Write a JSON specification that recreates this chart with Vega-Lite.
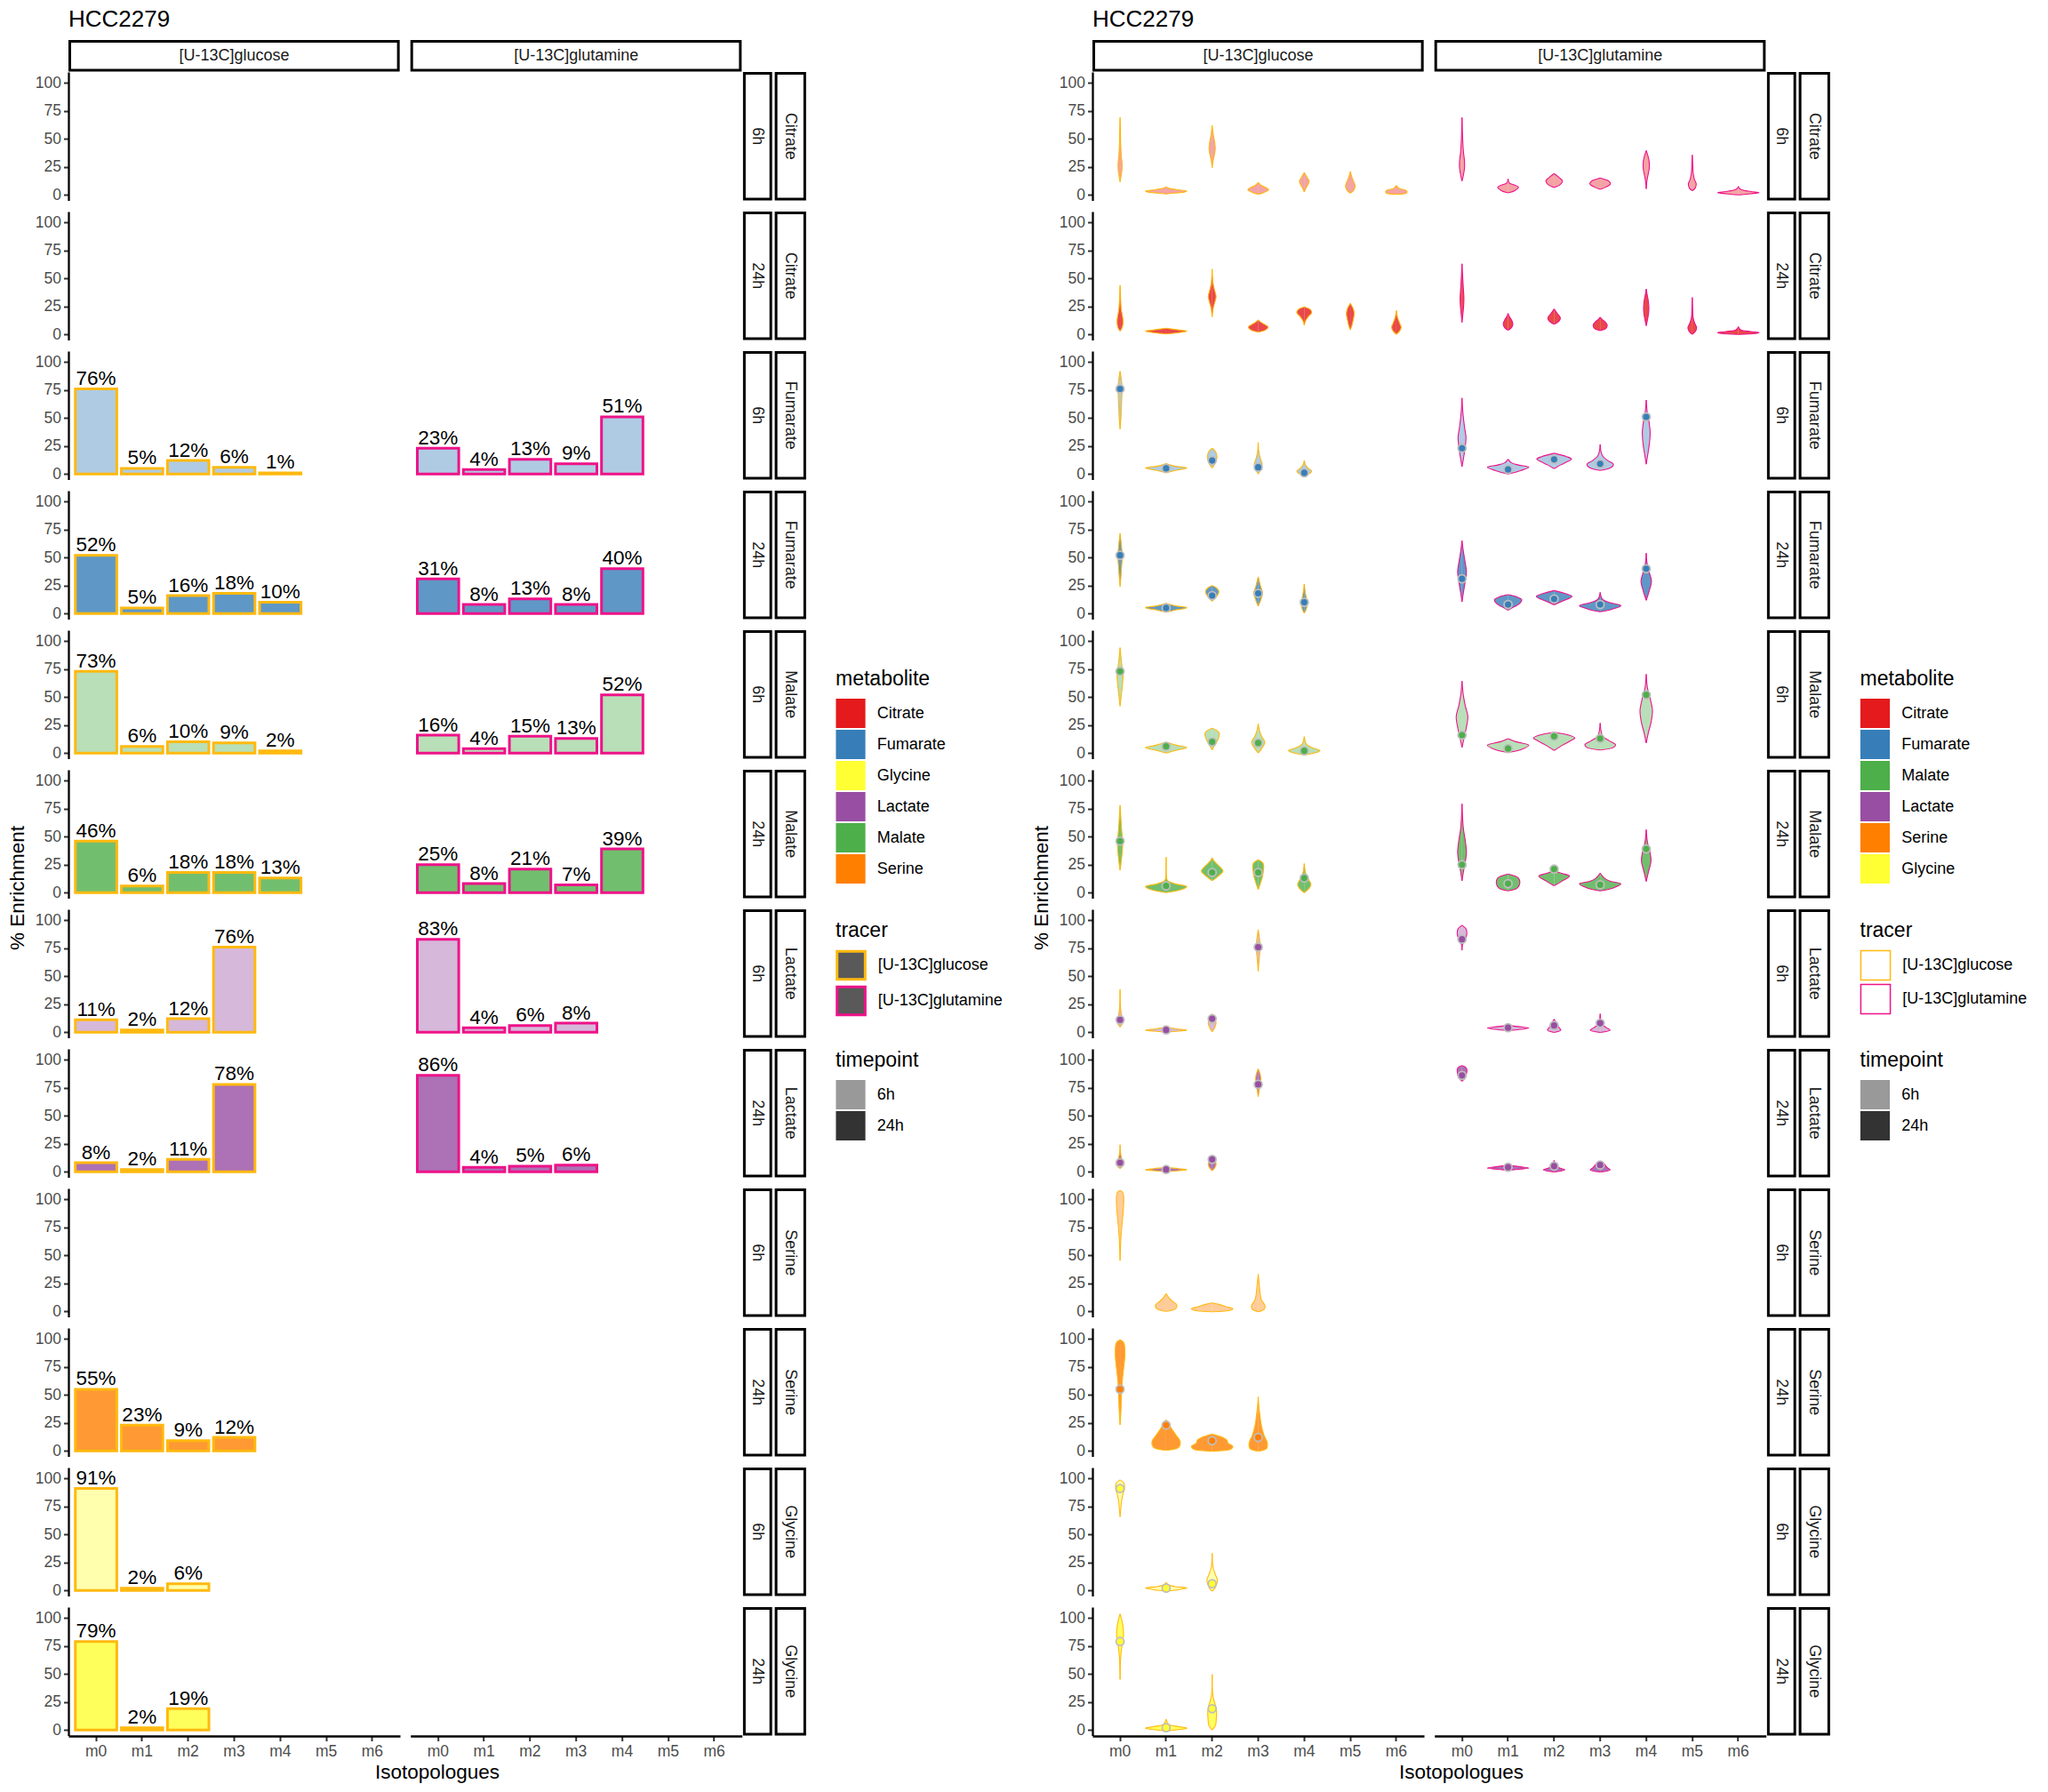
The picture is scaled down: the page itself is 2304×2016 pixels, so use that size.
{
"$schema":"https://vega.github.io/schema/vega-lite/v6.json",
"background":"white",
"padding":{"left":8,"top":8,"right":5,"bottom":5},
"spacing":32,
"resolve":{"scale":{"fill":"independent","stroke":"independent","fillOpacity":"independent","opacity":"independent"}},
"config":{
 "font":"Liberation Sans",
 "view":{"stroke":null},
 "axis":{"labelFont":"Liberation Sans","labelFontSize":17.5,"labelColor":"#4D4D4D","tickColor":"#333333","tickWidth":2,"tickSize":5.5,"labelPadding":3,"domainColor":"black","domainWidth":2.3,"grid":false,"labelOverlap":false},
 "axisX":{"labelAngle":0},
 "header":{"titleFont":"Liberation Sans","titleFontSize":22.5,"titleFontWeight":"normal","titleColor":"black"},
 "legend":{"titleFont":"Liberation Sans","titleFontSize":23,"titleFontWeight":"normal","titleColor":"black","labelFont":"Liberation Sans","labelFontSize":18,"labelColor":"black","labelOffset":12.8,"titlePadding":9.5,"rowPadding":1,"padding":0,"symbolType":"square","symbolSize":1100},
 "title":{"font":"Liberation Sans","fontSize":26,"fontWeight":"normal","color":"black","anchor":"start","frame":"group","offset":10}
},
"datasets":{
"L":[
{"v":"Ci6G","g":"Citrate 6h","m":"Citrate","t":"6h","r":"[U-13C]glucose"},
{"v":"Ci6N","g":"Citrate 6h","m":"Citrate","t":"6h","r":"[U-13C]glutamine"},
{"v":"Ci24G","g":"Citrate 24h","m":"Citrate","t":"24h","r":"[U-13C]glucose"},
{"v":"Ci24N","g":"Citrate 24h","m":"Citrate","t":"24h","r":"[U-13C]glutamine"},
{"v":"Fu6G","g":"Fumarate 6h","m":"Fumarate","t":"6h","r":"[U-13C]glucose"},
{"v":"Fu6N","g":"Fumarate 6h","m":"Fumarate","t":"6h","r":"[U-13C]glutamine"},
{"v":"Fu24G","g":"Fumarate 24h","m":"Fumarate","t":"24h","r":"[U-13C]glucose"},
{"v":"Fu24N","g":"Fumarate 24h","m":"Fumarate","t":"24h","r":"[U-13C]glutamine"},
{"v":"Ma6G","g":"Malate 6h","m":"Malate","t":"6h","r":"[U-13C]glucose"},
{"v":"Ma6N","g":"Malate 6h","m":"Malate","t":"6h","r":"[U-13C]glutamine"},
{"v":"Ma24G","g":"Malate 24h","m":"Malate","t":"24h","r":"[U-13C]glucose"},
{"v":"Ma24N","g":"Malate 24h","m":"Malate","t":"24h","r":"[U-13C]glutamine"},
{"v":"La6G","g":"Lactate 6h","m":"Lactate","t":"6h","r":"[U-13C]glucose"},
{"v":"La6N","g":"Lactate 6h","m":"Lactate","t":"6h","r":"[U-13C]glutamine"},
{"v":"La24G","g":"Lactate 24h","m":"Lactate","t":"24h","r":"[U-13C]glucose"},
{"v":"La24N","g":"Lactate 24h","m":"Lactate","t":"24h","r":"[U-13C]glutamine"},
{"v":"Se6G","g":"Serine 6h","m":"Serine","t":"6h","r":"[U-13C]glucose"},
{"v":"Se6N","g":"Serine 6h","m":"Serine","t":"6h","r":"[U-13C]glutamine"},
{"v":"Se24G","g":"Serine 24h","m":"Serine","t":"24h","r":"[U-13C]glucose"},
{"v":"Se24N","g":"Serine 24h","m":"Serine","t":"24h","r":"[U-13C]glutamine"},
{"v":"Gl6G","g":"Glycine 6h","m":"Glycine","t":"6h","r":"[U-13C]glucose"},
{"v":"Gl6N","g":"Glycine 6h","m":"Glycine","t":"6h","r":"[U-13C]glutamine"},
{"v":"Gl24G","g":"Glycine 24h","m":"Glycine","t":"24h","r":"[U-13C]glucose"},
{"v":"Gl24N","g":"Glycine 24h","m":"Glycine","t":"24h","r":"[U-13C]glutamine"}
],
"D":[
{"v":"Ci6G","s":"c"},{"v":"Ci6N","s":"c"},
{"v":"Ci6N","s":"r"},{"v":"Ci24N","s":"r"},{"v":"Fu6N","s":"r"},{"v":"Fu24N","s":"r"},{"v":"Ma6N","s":"r"},{"v":"Ma24N","s":"r"},{"v":"La6N","s":"r"},{"v":"La24N","s":"r"},{"v":"Se6N","s":"r"},{"v":"Se24N","s":"r"},{"v":"Gl6N","s":"r"},{"v":"Gl24N","s":"r"},
{"v":"Fu6G","i":"m0","y":76},{"v":"Fu6G","i":"m1","y":5},{"v":"Fu6G","i":"m2","y":12},{"v":"Fu6G","i":"m3","y":6},{"v":"Fu6G","i":"m4","y":1},
{"v":"Fu24G","i":"m0","y":52},{"v":"Fu24G","i":"m1","y":5},{"v":"Fu24G","i":"m2","y":16},{"v":"Fu24G","i":"m3","y":18},{"v":"Fu24G","i":"m4","y":10},
{"v":"Ma6G","i":"m0","y":73},{"v":"Ma6G","i":"m1","y":6},{"v":"Ma6G","i":"m2","y":10},{"v":"Ma6G","i":"m3","y":9},{"v":"Ma6G","i":"m4","y":2},
{"v":"Ma24G","i":"m0","y":46},{"v":"Ma24G","i":"m1","y":6},{"v":"Ma24G","i":"m2","y":18},{"v":"Ma24G","i":"m3","y":18},{"v":"Ma24G","i":"m4","y":13},
{"v":"La6G","i":"m0","y":11},{"v":"La6G","i":"m1","y":2},{"v":"La6G","i":"m2","y":12},{"v":"La6G","i":"m3","y":76},
{"v":"La24G","i":"m0","y":8},{"v":"La24G","i":"m1","y":2},{"v":"La24G","i":"m2","y":11},{"v":"La24G","i":"m3","y":78},
{"v":"Se24G","i":"m0","y":55},{"v":"Se24G","i":"m1","y":23},{"v":"Se24G","i":"m2","y":9},{"v":"Se24G","i":"m3","y":12},
{"v":"Gl6G","i":"m0","y":91},{"v":"Gl6G","i":"m1","y":2},{"v":"Gl6G","i":"m2","y":6},
{"v":"Gl24G","i":"m0","y":79},{"v":"Gl24G","i":"m1","y":2},{"v":"Gl24G","i":"m2","y":19},
{"v":"Fu6N","i":"m0","y":23},{"v":"Fu6N","i":"m1","y":4},{"v":"Fu6N","i":"m2","y":13},{"v":"Fu6N","i":"m3","y":9},{"v":"Fu6N","i":"m4","y":51},
{"v":"Fu24N","i":"m0","y":31},{"v":"Fu24N","i":"m1","y":8},{"v":"Fu24N","i":"m2","y":13},{"v":"Fu24N","i":"m3","y":8},{"v":"Fu24N","i":"m4","y":40},
{"v":"Ma6N","i":"m0","y":16},{"v":"Ma6N","i":"m1","y":4},{"v":"Ma6N","i":"m2","y":15},{"v":"Ma6N","i":"m3","y":13},{"v":"Ma6N","i":"m4","y":52},
{"v":"Ma24N","i":"m0","y":25},{"v":"Ma24N","i":"m1","y":8},{"v":"Ma24N","i":"m2","y":21},{"v":"Ma24N","i":"m3","y":7},{"v":"Ma24N","i":"m4","y":39},
{"v":"La6N","i":"m0","y":83},{"v":"La6N","i":"m1","y":4},{"v":"La6N","i":"m2","y":6},{"v":"La6N","i":"m3","y":8},
{"v":"La24N","i":"m0","y":86},{"v":"La24N","i":"m1","y":4},{"v":"La24N","i":"m2","y":5},{"v":"La24N","i":"m3","y":6},
{"v":"Ci6G","i":"m0","y":11.6,"w":0},{"v":"Ci6G","i":"m0","y":16,"w":0.02},{"v":"Ci6G","i":"m0","y":22,"w":0.045},{"v":"Ci6G","i":"m0","y":28,"w":0.048},{"v":"Ci6G","i":"m0","y":35,"w":0.03},{"v":"Ci6G","i":"m0","y":45,"w":0.015},{"v":"Ci6G","i":"m0","y":58,"w":0.008},{"v":"Ci6G","i":"m0","y":69,"w":0},
{"v":"Ci6G","i":"m1","y":0.8,"w":0},{"v":"Ci6G","i":"m1","y":1.6,"w":0.2},{"v":"Ci6G","i":"m1","y":2.5,"w":0.45},{"v":"Ci6G","i":"m1","y":3.3,"w":0.5},{"v":"Ci6G","i":"m1","y":4.2,"w":0.35},{"v":"Ci6G","i":"m1","y":5.2,"w":0.15},{"v":"Ci6G","i":"m1","y":6.2,"w":0.05},{"v":"Ci6G","i":"m1","y":7.2,"w":0},
{"v":"Ci6G","i":"m2","y":24.3,"w":0},{"v":"Ci6G","i":"m2","y":30,"w":0.02},{"v":"Ci6G","i":"m2","y":36,"w":0.055},{"v":"Ci6G","i":"m2","y":41,"w":0.075},{"v":"Ci6G","i":"m2","y":47,"w":0.06},{"v":"Ci6G","i":"m2","y":53,"w":0.03},{"v":"Ci6G","i":"m2","y":58,"w":0.012},{"v":"Ci6G","i":"m2","y":62,"w":0},
{"v":"Ci6G","i":"m3","y":0.5,"w":0},{"v":"Ci6G","i":"m3","y":2,"w":0.13},{"v":"Ci6G","i":"m3","y":4.5,"w":0.25},{"v":"Ci6G","i":"m3","y":6.5,"w":0.18},{"v":"Ci6G","i":"m3","y":8.5,"w":0.07},{"v":"Ci6G","i":"m3","y":11,"w":0},
{"v":"Ci6G","i":"m4","y":2.6,"w":0},{"v":"Ci6G","i":"m4","y":6,"w":0.04},{"v":"Ci6G","i":"m4","y":10,"w":0.1},{"v":"Ci6G","i":"m4","y":12.5,"w":0.116},{"v":"Ci6G","i":"m4","y":15.5,"w":0.07},{"v":"Ci6G","i":"m4","y":20,"w":0},
{"v":"Ci6G","i":"m5","y":1.6,"w":0},{"v":"Ci6G","i":"m5","y":4,"w":0.08},{"v":"Ci6G","i":"m5","y":8,"w":0.116},{"v":"Ci6G","i":"m5","y":12,"w":0.08},{"v":"Ci6G","i":"m5","y":16,"w":0.035},{"v":"Ci6G","i":"m5","y":20.8,"w":0},
{"v":"Ci6G","i":"m6","y":0.5,"w":0},{"v":"Ci6G","i":"m6","y":1.5,"w":0.24},{"v":"Ci6G","i":"m6","y":3,"w":0.26},{"v":"Ci6G","i":"m6","y":4.5,"w":0.2},{"v":"Ci6G","i":"m6","y":5.5,"w":0.08},{"v":"Ci6G","i":"m6","y":7,"w":0.03},{"v":"Ci6G","i":"m6","y":8.4,"w":0},
{"v":"Ci6N","i":"m0","y":12.4,"w":0},{"v":"Ci6N","i":"m0","y":18,"w":0.035},{"v":"Ci6N","i":"m0","y":24,"w":0.06},{"v":"Ci6N","i":"m0","y":30,"w":0.06},{"v":"Ci6N","i":"m0","y":38,"w":0.035},{"v":"Ci6N","i":"m0","y":50,"w":0.015},{"v":"Ci6N","i":"m0","y":60,"w":0.007},{"v":"Ci6N","i":"m0","y":69,"w":0},
{"v":"Ci6N","i":"m1","y":1.8,"w":0},{"v":"Ci6N","i":"m1","y":4,"w":0.17},{"v":"Ci6N","i":"m1","y":7,"w":0.25},{"v":"Ci6N","i":"m1","y":9,"w":0.13},{"v":"Ci6N","i":"m1","y":10.5,"w":0.03},{"v":"Ci6N","i":"m1","y":14.2,"w":0},
{"v":"Ci6N","i":"m2","y":6.6,"w":0},{"v":"Ci6N","i":"m2","y":9,"w":0.14},{"v":"Ci6N","i":"m2","y":12.4,"w":0.2},{"v":"Ci6N","i":"m2","y":15.5,"w":0.12},{"v":"Ci6N","i":"m2","y":19,"w":0},
{"v":"Ci6N","i":"m3","y":5,"w":0},{"v":"Ci6N","i":"m3","y":7,"w":0.14},{"v":"Ci6N","i":"m3","y":10,"w":0.25},{"v":"Ci6N","i":"m3","y":12.5,"w":0.2},{"v":"Ci6N","i":"m3","y":14,"w":0.09},{"v":"Ci6N","i":"m3","y":15,"w":0},
{"v":"Ci6N","i":"m4","y":5.3,"w":0},{"v":"Ci6N","i":"m4","y":12,"w":0.015},{"v":"Ci6N","i":"m4","y":18,"w":0.045},{"v":"Ci6N","i":"m4","y":24,"w":0.074},{"v":"Ci6N","i":"m4","y":30,"w":0.07},{"v":"Ci6N","i":"m4","y":35,"w":0.04},{"v":"Ci6N","i":"m4","y":39.6,"w":0},
{"v":"Ci6N","i":"m5","y":3.7,"w":0},{"v":"Ci6N","i":"m5","y":6,"w":0.07},{"v":"Ci6N","i":"m5","y":9.8,"w":0.095},{"v":"Ci6N","i":"m5","y":14,"w":0.05},{"v":"Ci6N","i":"m5","y":20,"w":0.02},{"v":"Ci6N","i":"m5","y":28,"w":0.01},{"v":"Ci6N","i":"m5","y":35.6,"w":0},
{"v":"Ci6N","i":"m6","y":0,"w":0},{"v":"Ci6N","i":"m6","y":1,"w":0.3},{"v":"Ci6N","i":"m6","y":2,"w":0.5},{"v":"Ci6N","i":"m6","y":3,"w":0.3},{"v":"Ci6N","i":"m6","y":4.5,"w":0.08},{"v":"Ci6N","i":"m6","y":6,"w":0.02},{"v":"Ci6N","i":"m6","y":7.6,"w":0},
{"v":"Ci24G","i":"m0","y":2.9,"w":0},{"v":"Ci24G","i":"m0","y":6,"w":0.05},{"v":"Ci24G","i":"m0","y":11,"w":0.074},{"v":"Ci24G","i":"m0","y":16,"w":0.06},{"v":"Ci24G","i":"m0","y":22,"w":0.03},{"v":"Ci24G","i":"m0","y":30,"w":0.015},{"v":"Ci24G","i":"m0","y":43.8,"w":0},
{"v":"Ci24G","i":"m1","y":0.3,"w":0},{"v":"Ci24G","i":"m1","y":1.5,"w":0.3},{"v":"Ci24G","i":"m1","y":2.9,"w":0.5},{"v":"Ci24G","i":"m1","y":4,"w":0.3},{"v":"Ci24G","i":"m1","y":5.5,"w":0},
{"v":"Ci24G","i":"m2","y":15.6,"w":0},{"v":"Ci24G","i":"m2","y":24,"w":0.03},{"v":"Ci24G","i":"m2","y":30,"w":0.075},{"v":"Ci24G","i":"m2","y":34,"w":0.095},{"v":"Ci24G","i":"m2","y":38,"w":0.07},{"v":"Ci24G","i":"m2","y":45,"w":0.025},{"v":"Ci24G","i":"m2","y":58.3,"w":0},
{"v":"Ci24G","i":"m3","y":2.1,"w":0},{"v":"Ci24G","i":"m3","y":4,"w":0.18},{"v":"Ci24G","i":"m3","y":6.6,"w":0.24},{"v":"Ci24G","i":"m3","y":9,"w":0.15},{"v":"Ci24G","i":"m3","y":11,"w":0.06},{"v":"Ci24G","i":"m3","y":12.9,"w":0},
{"v":"Ci24G","i":"m4","y":8.2,"w":0},{"v":"Ci24G","i":"m4","y":12,"w":0.03},{"v":"Ci24G","i":"m4","y":16,"w":0.1},{"v":"Ci24G","i":"m4","y":19.3,"w":0.18},{"v":"Ci24G","i":"m4","y":22,"w":0.15},{"v":"Ci24G","i":"m4","y":24.5,"w":0},
{"v":"Ci24G","i":"m5","y":4,"w":0},{"v":"Ci24G","i":"m5","y":8,"w":0.04},{"v":"Ci24G","i":"m5","y":13,"w":0.07},{"v":"Ci24G","i":"m5","y":18.7,"w":0.095},{"v":"Ci24G","i":"m5","y":23,"w":0.07},{"v":"Ci24G","i":"m5","y":27.7,"w":0},
{"v":"Ci24G","i":"m6","y":0,"w":0},{"v":"Ci24G","i":"m6","y":3,"w":0.08},{"v":"Ci24G","i":"m6","y":6.3,"w":0.116},{"v":"Ci24G","i":"m6","y":10,"w":0.08},{"v":"Ci24G","i":"m6","y":15,"w":0.03},{"v":"Ci24G","i":"m6","y":21.4,"w":0},
{"v":"Ci24N","i":"m0","y":10.8,"w":0},{"v":"Ci24N","i":"m0","y":18,"w":0.02},{"v":"Ci24N","i":"m0","y":26,"w":0.04},{"v":"Ci24N","i":"m0","y":33,"w":0.045},{"v":"Ci24N","i":"m0","y":42,"w":0.03},{"v":"Ci24N","i":"m0","y":52,"w":0.015},{"v":"Ci24N","i":"m0","y":63,"w":0},
{"v":"Ci24N","i":"m1","y":3.7,"w":0},{"v":"Ci24N","i":"m1","y":6,"w":0.08},{"v":"Ci24N","i":"m1","y":9.5,"w":0.116},{"v":"Ci24N","i":"m1","y":13,"w":0.08},{"v":"Ci24N","i":"m1","y":16,"w":0.03},{"v":"Ci24N","i":"m1","y":18.7,"w":0},
{"v":"Ci24N","i":"m2","y":9,"w":0},{"v":"Ci24N","i":"m2","y":12,"w":0.12},{"v":"Ci24N","i":"m2","y":14.8,"w":0.15},{"v":"Ci24N","i":"m2","y":18,"w":0.09},{"v":"Ci24N","i":"m2","y":22.7,"w":0},
{"v":"Ci24N","i":"m3","y":3.4,"w":0},{"v":"Ci24N","i":"m3","y":5.5,"w":0.14},{"v":"Ci24N","i":"m3","y":8.2,"w":0.17},{"v":"Ci24N","i":"m3","y":11,"w":0.12},{"v":"Ci24N","i":"m3","y":13.5,"w":0.04},{"v":"Ci24N","i":"m3","y":15.3,"w":0},
{"v":"Ci24N","i":"m4","y":7.7,"w":0},{"v":"Ci24N","i":"m4","y":14,"w":0.035},{"v":"Ci24N","i":"m4","y":20,"w":0.06},{"v":"Ci24N","i":"m4","y":25,"w":0.063},{"v":"Ci24N","i":"m4","y":31,"w":0.045},{"v":"Ci24N","i":"m4","y":36,"w":0.02},{"v":"Ci24N","i":"m4","y":40.6,"w":0},
{"v":"Ci24N","i":"m5","y":0,"w":0},{"v":"Ci24N","i":"m5","y":3,"w":0.08},{"v":"Ci24N","i":"m5","y":6,"w":0.105},{"v":"Ci24N","i":"m5","y":10,"w":0.06},{"v":"Ci24N","i":"m5","y":15,"w":0.02},{"v":"Ci24N","i":"m5","y":24,"w":0.008},{"v":"Ci24N","i":"m5","y":33,"w":0},
{"v":"Ci24N","i":"m6","y":0,"w":0},{"v":"Ci24N","i":"m6","y":0.8,"w":0.4},{"v":"Ci24N","i":"m6","y":1.6,"w":0.5},{"v":"Ci24N","i":"m6","y":2.5,"w":0.3},{"v":"Ci24N","i":"m6","y":4,"w":0.06},{"v":"Ci24N","i":"m6","y":5.5,"w":0.02},{"v":"Ci24N","i":"m6","y":6.9,"w":0},
{"v":"Fu6G","i":"m0","y":40.1,"w":0},{"v":"Fu6G","i":"m0","y":50,"w":0.02},{"v":"Fu6G","i":"m0","y":62,"w":0.035},{"v":"Fu6G","i":"m0","y":72,"w":0.045},{"v":"Fu6G","i":"m0","y":80,"w":0.045},{"v":"Fu6G","i":"m0","y":86,"w":0.025},{"v":"Fu6G","i":"m0","y":91.8,"w":0},
{"v":"Fu6G","i":"m1","y":1,"w":0},{"v":"Fu6G","i":"m1","y":3,"w":0.2},{"v":"Fu6G","i":"m1","y":5.3,"w":0.5},{"v":"Fu6G","i":"m1","y":7,"w":0.2},{"v":"Fu6G","i":"m1","y":9.2,"w":0},
{"v":"Fu6G","i":"m2","y":5.3,"w":0},{"v":"Fu6G","i":"m2","y":8,"w":0.05},{"v":"Fu6G","i":"m2","y":12,"w":0.1},{"v":"Fu6G","i":"m2","y":16,"w":0.116},{"v":"Fu6G","i":"m2","y":20,"w":0.08},{"v":"Fu6G","i":"m2","y":23,"w":0},
{"v":"Fu6G","i":"m3","y":0,"w":0},{"v":"Fu6G","i":"m3","y":4,"w":0.06},{"v":"Fu6G","i":"m3","y":9,"w":0.095},{"v":"Fu6G","i":"m3","y":14,"w":0.05},{"v":"Fu6G","i":"m3","y":20,"w":0.015},{"v":"Fu6G","i":"m3","y":28.2,"w":0},
{"v":"Fu6G","i":"m4","y":-1,"w":0},{"v":"Fu6G","i":"m4","y":1,"w":0.15},{"v":"Fu6G","i":"m4","y":2.6,"w":0.18},{"v":"Fu6G","i":"m4","y":5,"w":0.1},{"v":"Fu6G","i":"m4","y":8,"w":0.03},{"v":"Fu6G","i":"m4","y":11.9,"w":0},
{"v":"Fu6N","i":"m0","y":6.6,"w":0},{"v":"Fu6N","i":"m0","y":15,"w":0.04},{"v":"Fu6N","i":"m0","y":25,"w":0.08},{"v":"Fu6N","i":"m0","y":33,"w":0.095},{"v":"Fu6N","i":"m0","y":42,"w":0.06},{"v":"Fu6N","i":"m0","y":55,"w":0.02},{"v":"Fu6N","i":"m0","y":67.8,"w":0},
{"v":"Fu6N","i":"m1","y":0,"w":0},{"v":"Fu6N","i":"m1","y":3,"w":0.3},{"v":"Fu6N","i":"m1","y":6,"w":0.5},{"v":"Fu6N","i":"m1","y":8,"w":0.25},{"v":"Fu6N","i":"m1","y":10,"w":0.08},{"v":"Fu6N","i":"m1","y":13.2,"w":0},
{"v":"Fu6N","i":"m2","y":4.7,"w":0},{"v":"Fu6N","i":"m2","y":8,"w":0.15},{"v":"Fu6N","i":"m2","y":11,"w":0.32},{"v":"Fu6N","i":"m2","y":13.2,"w":0.42},{"v":"Fu6N","i":"m2","y":15.5,"w":0.3},{"v":"Fu6N","i":"m2","y":18.5,"w":0},
{"v":"Fu6N","i":"m3","y":3.2,"w":0},{"v":"Fu6N","i":"m3","y":5.5,"w":0.25},{"v":"Fu6N","i":"m3","y":8.7,"w":0.32},{"v":"Fu6N","i":"m3","y":12,"w":0.18},{"v":"Fu6N","i":"m3","y":16,"w":0.06},{"v":"Fu6N","i":"m3","y":20,"w":0.02},{"v":"Fu6N","i":"m3","y":26.4,"w":0},
{"v":"Fu6N","i":"m4","y":8.7,"w":0},{"v":"Fu6N","i":"m4","y":18,"w":0.04},{"v":"Fu6N","i":"m4","y":28,"w":0.08},{"v":"Fu6N","i":"m4","y":37,"w":0.095},{"v":"Fu6N","i":"m4","y":46,"w":0.07},{"v":"Fu6N","i":"m4","y":55,"w":0.025},{"v":"Fu6N","i":"m4","y":66,"w":0},
{"v":"Fu24G","i":"m0","y":24.2,"w":0},{"v":"Fu24G","i":"m0","y":33,"w":0.02},{"v":"Fu24G","i":"m0","y":43,"w":0.04},{"v":"Fu24G","i":"m0","y":51,"w":0.053},{"v":"Fu24G","i":"m0","y":60,"w":0.035},{"v":"Fu24G","i":"m0","y":71.6,"w":0},
{"v":"Fu24G","i":"m1","y":1.2,"w":0},{"v":"Fu24G","i":"m1","y":3,"w":0.2},{"v":"Fu24G","i":"m1","y":5.2,"w":0.5},{"v":"Fu24G","i":"m1","y":7,"w":0.2},{"v":"Fu24G","i":"m1","y":9.1,"w":0},
{"v":"Fu24G","i":"m2","y":11,"w":0},{"v":"Fu24G","i":"m2","y":14,"w":0.08},{"v":"Fu24G","i":"m2","y":17,"w":0.14},{"v":"Fu24G","i":"m2","y":20,"w":0.16},{"v":"Fu24G","i":"m2","y":23,"w":0.1},{"v":"Fu24G","i":"m2","y":25,"w":0},
{"v":"Fu24G","i":"m3","y":6.5,"w":0},{"v":"Fu24G","i":"m3","y":12,"w":0.06},{"v":"Fu24G","i":"m3","y":18.4,"w":0.106},{"v":"Fu24G","i":"m3","y":24,"w":0.06},{"v":"Fu24G","i":"m3","y":32.9,"w":0},
{"v":"Fu24G","i":"m4","y":0.4,"w":0},{"v":"Fu24G","i":"m4","y":4,"w":0.05},{"v":"Fu24G","i":"m4","y":9,"w":0.074},{"v":"Fu24G","i":"m4","y":14,"w":0.05},{"v":"Fu24G","i":"m4","y":20,"w":0.02},{"v":"Fu24G","i":"m4","y":26.3,"w":0},
{"v":"Fu24N","i":"m0","y":10.4,"w":0},{"v":"Fu24N","i":"m0","y":18,"w":0.03},{"v":"Fu24N","i":"m0","y":27,"w":0.07},{"v":"Fu24N","i":"m0","y":37,"w":0.106},{"v":"Fu24N","i":"m0","y":47,"w":0.07},{"v":"Fu24N","i":"m0","y":56,"w":0.03},{"v":"Fu24N","i":"m0","y":65,"w":0},
{"v":"Fu24N","i":"m1","y":3,"w":0},{"v":"Fu24N","i":"m1","y":6,"w":0.15},{"v":"Fu24N","i":"m1","y":9,"w":0.28},{"v":"Fu24N","i":"m1","y":12.3,"w":0.33},{"v":"Fu24N","i":"m1","y":15,"w":0.2},{"v":"Fu24N","i":"m1","y":16.8,"w":0},
{"v":"Fu24N","i":"m2","y":7.8,"w":0},{"v":"Fu24N","i":"m2","y":11,"w":0.2},{"v":"Fu24N","i":"m2","y":15.2,"w":0.43},{"v":"Fu24N","i":"m2","y":18,"w":0.25},{"v":"Fu24N","i":"m2","y":20.5,"w":0},
{"v":"Fu24N","i":"m3","y":1.5,"w":0},{"v":"Fu24N","i":"m3","y":4,"w":0.3},{"v":"Fu24N","i":"m3","y":7,"w":0.5},{"v":"Fu24N","i":"m3","y":10,"w":0.2},{"v":"Fu24N","i":"m3","y":13,"w":0.05},{"v":"Fu24N","i":"m3","y":18.9,"w":0},
{"v":"Fu24N","i":"m4","y":11.8,"w":0},{"v":"Fu24N","i":"m4","y":20,"w":0.07},{"v":"Fu24N","i":"m4","y":28.9,"w":0.127},{"v":"Fu24N","i":"m4","y":36,"w":0.08},{"v":"Fu24N","i":"m4","y":45,"w":0.02},{"v":"Fu24N","i":"m4","y":54,"w":0},
{"v":"Ma6G","i":"m0","y":41.9,"w":0},{"v":"Ma6G","i":"m0","y":52,"w":0.03},{"v":"Ma6G","i":"m0","y":62,"w":0.06},{"v":"Ma6G","i":"m0","y":70,"w":0.074},{"v":"Ma6G","i":"m0","y":78,"w":0.045},{"v":"Ma6G","i":"m0","y":86,"w":0.02},{"v":"Ma6G","i":"m0","y":94.1,"w":0},
{"v":"Ma6G","i":"m1","y":0,"w":0},{"v":"Ma6G","i":"m1","y":2.5,"w":0.25},{"v":"Ma6G","i":"m1","y":4.9,"w":0.5},{"v":"Ma6G","i":"m1","y":7,"w":0.25},{"v":"Ma6G","i":"m1","y":9.7,"w":0},
{"v":"Ma6G","i":"m2","y":2.8,"w":0},{"v":"Ma6G","i":"m2","y":7,"w":0.06},{"v":"Ma6G","i":"m2","y":12,"w":0.14},{"v":"Ma6G","i":"m2","y":18,"w":0.17},{"v":"Ma6G","i":"m2","y":22.1,"w":0},
{"v":"Ma6G","i":"m3","y":0,"w":0},{"v":"Ma6G","i":"m3","y":5,"w":0.1},{"v":"Ma6G","i":"m3","y":9.7,"w":0.16},{"v":"Ma6G","i":"m3","y":15,"w":0.08},{"v":"Ma6G","i":"m3","y":20,"w":0.03},{"v":"Ma6G","i":"m3","y":26,"w":0},
{"v":"Ma6G","i":"m4","y":-1.6,"w":0},{"v":"Ma6G","i":"m4","y":0.5,"w":0.3},{"v":"Ma6G","i":"m4","y":2.3,"w":0.38},{"v":"Ma6G","i":"m4","y":5,"w":0.18},{"v":"Ma6G","i":"m4","y":8,"w":0.05},{"v":"Ma6G","i":"m4","y":14.7,"w":0},
{"v":"Ma6N","i":"m0","y":5,"w":0},{"v":"Ma6N","i":"m0","y":12,"w":0.04},{"v":"Ma6N","i":"m0","y":22,"w":0.1},{"v":"Ma6N","i":"m0","y":32.6,"w":0.14},{"v":"Ma6N","i":"m0","y":42,"w":0.08},{"v":"Ma6N","i":"m0","y":52,"w":0.03},{"v":"Ma6N","i":"m0","y":64.3,"w":0},
{"v":"Ma6N","i":"m1","y":0.5,"w":0},{"v":"Ma6N","i":"m1","y":3,"w":0.3},{"v":"Ma6N","i":"m1","y":7,"w":0.5},{"v":"Ma6N","i":"m1","y":10,"w":0.2},{"v":"Ma6N","i":"m1","y":12.9,"w":0},
{"v":"Ma6N","i":"m2","y":2.3,"w":0},{"v":"Ma6N","i":"m2","y":7,"w":0.2},{"v":"Ma6N","i":"m2","y":11,"w":0.4},{"v":"Ma6N","i":"m2","y":13.4,"w":0.5},{"v":"Ma6N","i":"m2","y":16,"w":0.35},{"v":"Ma6N","i":"m2","y":18.6,"w":0},
{"v":"Ma6N","i":"m3","y":2.8,"w":0},{"v":"Ma6N","i":"m3","y":5,"w":0.32},{"v":"Ma6N","i":"m3","y":7.6,"w":0.37},{"v":"Ma6N","i":"m3","y":11,"w":0.22},{"v":"Ma6N","i":"m3","y":15,"w":0.06},{"v":"Ma6N","i":"m3","y":20,"w":0.02},{"v":"Ma6N","i":"m3","y":26.8,"w":0},
{"v":"Ma6N","i":"m4","y":8.9,"w":0},{"v":"Ma6N","i":"m4","y":18,"w":0.05},{"v":"Ma6N","i":"m4","y":28,"w":0.12},{"v":"Ma6N","i":"m4","y":38,"w":0.15},{"v":"Ma6N","i":"m4","y":48,"w":0.1},{"v":"Ma6N","i":"m4","y":58,"w":0.03},{"v":"Ma6N","i":"m4","y":70.4,"w":0},
{"v":"Ma24G","i":"m0","y":20,"w":0},{"v":"Ma24G","i":"m0","y":30,"w":0.035},{"v":"Ma24G","i":"m0","y":40,"w":0.06},{"v":"Ma24G","i":"m0","y":46,"w":0.063},{"v":"Ma24G","i":"m0","y":55,"w":0.04},{"v":"Ma24G","i":"m0","y":66,"w":0.02},{"v":"Ma24G","i":"m0","y":78.1,"w":0},
{"v":"Ma24G","i":"m1","y":0,"w":0},{"v":"Ma24G","i":"m1","y":2.5,"w":0.35},{"v":"Ma24G","i":"m1","y":5.3,"w":0.5},{"v":"Ma24G","i":"m1","y":8,"w":0.2},{"v":"Ma24G","i":"m1","y":11,"w":0.03},{"v":"Ma24G","i":"m1","y":15,"w":0.008},{"v":"Ma24G","i":"m1","y":31.7,"w":0},
{"v":"Ma24G","i":"m2","y":10.6,"w":0},{"v":"Ma24G","i":"m2","y":14,"w":0.12},{"v":"Ma24G","i":"m2","y":19.3,"w":0.26},{"v":"Ma24G","i":"m2","y":24,"w":0.16},{"v":"Ma24G","i":"m2","y":28,"w":0.05},{"v":"Ma24G","i":"m2","y":31.1,"w":0},
{"v":"Ma24G","i":"m3","y":2.6,"w":0},{"v":"Ma24G","i":"m3","y":8,"w":0.05},{"v":"Ma24G","i":"m3","y":14,"w":0.1},{"v":"Ma24G","i":"m3","y":20,"w":0.127},{"v":"Ma24G","i":"m3","y":26,"w":0.12},{"v":"Ma24G","i":"m3","y":29.3,"w":0},
{"v":"Ma24G","i":"m4","y":0,"w":0},{"v":"Ma24G","i":"m4","y":4,"w":0.12},{"v":"Ma24G","i":"m4","y":7.4,"w":0.16},{"v":"Ma24G","i":"m4","y":12,"w":0.1},{"v":"Ma24G","i":"m4","y":18,"w":0.03},{"v":"Ma24G","i":"m4","y":25.9,"w":0},
{"v":"Ma24N","i":"m0","y":10.6,"w":0},{"v":"Ma24N","i":"m0","y":20,"w":0.04},{"v":"Ma24N","i":"m0","y":30,"w":0.09},{"v":"Ma24N","i":"m0","y":36.4,"w":0.106},{"v":"Ma24N","i":"m0","y":46,"w":0.08},{"v":"Ma24N","i":"m0","y":58,"w":0.03},{"v":"Ma24N","i":"m0","y":79.4,"w":0},
{"v":"Ma24N","i":"m1","y":1.6,"w":0},{"v":"Ma24N","i":"m1","y":4,"w":0.22},{"v":"Ma24N","i":"m1","y":8.7,"w":0.285},{"v":"Ma24N","i":"m1","y":13,"w":0.25},{"v":"Ma24N","i":"m1","y":16.6,"w":0},
{"v":"Ma24N","i":"m2","y":6.1,"w":0},{"v":"Ma24N","i":"m2","y":10,"w":0.18},{"v":"Ma24N","i":"m2","y":14.8,"w":0.37},{"v":"Ma24N","i":"m2","y":17,"w":0.2},{"v":"Ma24N","i":"m2","y":19,"w":0.05},{"v":"Ma24N","i":"m2","y":20.6,"w":0},
{"v":"Ma24N","i":"m3","y":1.6,"w":0},{"v":"Ma24N","i":"m3","y":4,"w":0.3},{"v":"Ma24N","i":"m3","y":7.9,"w":0.5},{"v":"Ma24N","i":"m3","y":10,"w":0.25},{"v":"Ma24N","i":"m3","y":13,"w":0.1},{"v":"Ma24N","i":"m3","y":17.4,"w":0},
{"v":"Ma24N","i":"m4","y":10,"w":0},{"v":"Ma24N","i":"m4","y":18,"w":0.05},{"v":"Ma24N","i":"m4","y":28.5,"w":0.116},{"v":"Ma24N","i":"m4","y":36,"w":0.09},{"v":"Ma24N","i":"m4","y":45,"w":0.03},{"v":"Ma24N","i":"m4","y":56.2,"w":0},
{"v":"La6G","i":"m0","y":4.5,"w":0},{"v":"La6G","i":"m0","y":8,"w":0.06},{"v":"La6G","i":"m0","y":11,"w":0.074},{"v":"La6G","i":"m0","y":15,"w":0.04},{"v":"La6G","i":"m0","y":22,"w":0.01},{"v":"La6G","i":"m0","y":38,"w":0},
{"v":"La6G","i":"m1","y":0,"w":0},{"v":"La6G","i":"m1","y":1,"w":0.3},{"v":"La6G","i":"m1","y":1.8,"w":0.5},{"v":"La6G","i":"m1","y":3,"w":0.25},{"v":"La6G","i":"m1","y":4.5,"w":0},
{"v":"La6G","i":"m2","y":0.5,"w":0},{"v":"La6G","i":"m2","y":4,"w":0.06},{"v":"La6G","i":"m2","y":8.4,"w":0.095},{"v":"La6G","i":"m2","y":12,"w":0.06},{"v":"La6G","i":"m2","y":16.4,"w":0},
{"v":"La6G","i":"m3","y":54.1,"w":0},{"v":"La6G","i":"m3","y":62,"w":0.015},{"v":"La6G","i":"m3","y":70,"w":0.035},{"v":"La6G","i":"m3","y":76,"w":0.053},{"v":"La6G","i":"m3","y":82,"w":0.035},{"v":"La6G","i":"m3","y":88,"w":0.015},{"v":"La6G","i":"m3","y":91.6,"w":0},
{"v":"La6N","i":"m0","y":73.1,"w":0},{"v":"La6N","i":"m0","y":78,"w":0.01},{"v":"La6N","i":"m0","y":84,"w":0.09},{"v":"La6N","i":"m0","y":88,"w":0.116},{"v":"La6N","i":"m0","y":92,"w":0.1},{"v":"La6N","i":"m0","y":95.5,"w":0},
{"v":"La6N","i":"m1","y":1.3,"w":0},{"v":"La6N","i":"m1","y":2.5,"w":0.3},{"v":"La6N","i":"m1","y":3.7,"w":0.5},{"v":"La6N","i":"m1","y":4.8,"w":0.3},{"v":"La6N","i":"m1","y":5.8,"w":0},
{"v":"La6N","i":"m2","y":-0.3,"w":0},{"v":"La6N","i":"m2","y":1.8,"w":0.16},{"v":"La6N","i":"m2","y":4,"w":0.12},{"v":"La6N","i":"m2","y":7,"w":0.07},{"v":"La6N","i":"m2","y":11.6,"w":0},
{"v":"La6N","i":"m3","y":-0.3,"w":0},{"v":"La6N","i":"m3","y":1.8,"w":0.24},{"v":"La6N","i":"m3","y":4,"w":0.15},{"v":"La6N","i":"m3","y":7,"w":0.05},{"v":"La6N","i":"m3","y":11,"w":0.015},{"v":"La6N","i":"m3","y":16.4,"w":0},
{"v":"La24G","i":"m0","y":3,"w":0},{"v":"La24G","i":"m0","y":5.5,"w":0.08},{"v":"La24G","i":"m0","y":8.3,"w":0.095},{"v":"La24G","i":"m0","y":12,"w":0.04},{"v":"La24G","i":"m0","y":17,"w":0.01},{"v":"La24G","i":"m0","y":24.2,"w":0},
{"v":"La24G","i":"m1","y":0,"w":0},{"v":"La24G","i":"m1","y":1,"w":0.3},{"v":"La24G","i":"m1","y":1.7,"w":0.5},{"v":"La24G","i":"m1","y":2.7,"w":0.3},{"v":"La24G","i":"m1","y":3.8,"w":0},
{"v":"La24G","i":"m2","y":0.9,"w":0},{"v":"La24G","i":"m2","y":4,"w":0.07},{"v":"La24G","i":"m2","y":7,"w":0.095},{"v":"La24G","i":"m2","y":10,"w":0.07},{"v":"La24G","i":"m2","y":14.1,"w":0},
{"v":"La24G","i":"m3","y":66.9,"w":0},{"v":"La24G","i":"m3","y":72,"w":0.02},{"v":"La24G","i":"m3","y":78,"w":0.05},{"v":"La24G","i":"m3","y":83.5,"w":0.063},{"v":"La24G","i":"m3","y":88,"w":0.04},{"v":"La24G","i":"m3","y":91.9,"w":0},
{"v":"La24N","i":"m0","y":80.8,"w":0},{"v":"La24N","i":"m0","y":84,"w":0.08},{"v":"La24N","i":"m0","y":88,"w":0.11},{"v":"La24N","i":"m0","y":91.4,"w":0.116},{"v":"La24N","i":"m0","y":93.5,"w":0.08},{"v":"La24N","i":"m0","y":94.8,"w":0},
{"v":"La24N","i":"m1","y":1.4,"w":0},{"v":"La24N","i":"m1","y":2.4,"w":0.3},{"v":"La24N","i":"m1","y":3.3,"w":0.5},{"v":"La24N","i":"m1","y":4.4,"w":0.3},{"v":"La24N","i":"m1","y":5.6,"w":0},
{"v":"La24N","i":"m2","y":-0.2,"w":0},{"v":"La24N","i":"m2","y":1.7,"w":0.26},{"v":"La24N","i":"m2","y":3.5,"w":0.12},{"v":"La24N","i":"m2","y":6,"w":0.04},{"v":"La24N","i":"m2","y":10.1,"w":0},
{"v":"La24N","i":"m3","y":-0.2,"w":0},{"v":"La24N","i":"m3","y":1.7,"w":0.24},{"v":"La24N","i":"m3","y":3.5,"w":0.18},{"v":"La24N","i":"m3","y":5,"w":0.14},{"v":"La24N","i":"m3","y":7,"w":0.1},{"v":"La24N","i":"m3","y":9.6,"w":0},
{"v":"Se6G","i":"m0","y":45.3,"w":0},{"v":"Se6G","i":"m0","y":55,"w":0.008},{"v":"Se6G","i":"m0","y":65,"w":0.02},{"v":"Se6G","i":"m0","y":75,"w":0.04},{"v":"Se6G","i":"m0","y":85,"w":0.065},{"v":"Se6G","i":"m0","y":95,"w":0.085},{"v":"Se6G","i":"m0","y":103,"w":0.085},{"v":"Se6G","i":"m0","y":106.5,"w":0.06},{"v":"Se6G","i":"m0","y":107.9,"w":0},
{"v":"Se6G","i":"m1","y":0,"w":0},{"v":"Se6G","i":"m1","y":2,"w":0.22},{"v":"Se6G","i":"m1","y":5.4,"w":0.26},{"v":"Se6G","i":"m1","y":9,"w":0.15},{"v":"Se6G","i":"m1","y":12,"w":0.07},{"v":"Se6G","i":"m1","y":15.9,"w":0},
{"v":"Se6G","i":"m2","y":-0.4,"w":0},{"v":"Se6G","i":"m2","y":1,"w":0.45},{"v":"Se6G","i":"m2","y":2.3,"w":0.5},{"v":"Se6G","i":"m2","y":4,"w":0.35},{"v":"Se6G","i":"m2","y":6,"w":0.18},{"v":"Se6G","i":"m2","y":7.5,"w":0},
{"v":"Se6G","i":"m3","y":-0.4,"w":0},{"v":"Se6G","i":"m3","y":2,"w":0.15},{"v":"Se6G","i":"m3","y":5.4,"w":0.16},{"v":"Se6G","i":"m3","y":10,"w":0.08},{"v":"Se6G","i":"m3","y":15,"w":0.05},{"v":"Se6G","i":"m3","y":22,"w":0.03},{"v":"Se6G","i":"m3","y":33.1,"w":0},
{"v":"Se24G","i":"m0","y":23.2,"w":0},{"v":"Se24G","i":"m0","y":35,"w":0.02},{"v":"Se24G","i":"m0","y":45,"w":0.03},{"v":"Se24G","i":"m0","y":55,"w":0.04},{"v":"Se24G","i":"m0","y":65,"w":0.06},{"v":"Se24G","i":"m0","y":75,"w":0.09},{"v":"Se24G","i":"m0","y":86,"w":0.116},{"v":"Se24G","i":"m0","y":96.5,"w":0.09},{"v":"Se24G","i":"m0","y":99.2,"w":0},
{"v":"Se24G","i":"m1","y":0.5,"w":0},{"v":"Se24G","i":"m1","y":3,"w":0.3},{"v":"Se24G","i":"m1","y":8.4,"w":0.34},{"v":"Se24G","i":"m1","y":14,"w":0.24},{"v":"Se24G","i":"m1","y":20,"w":0.13},{"v":"Se24G","i":"m1","y":25,"w":0.05},{"v":"Se24G","i":"m1","y":27.6,"w":0},
{"v":"Se24G","i":"m2","y":-0.3,"w":0},{"v":"Se24G","i":"m2","y":1.5,"w":0.45},{"v":"Se24G","i":"m2","y":4,"w":0.5},{"v":"Se24G","i":"m2","y":7,"w":0.38},{"v":"Se24G","i":"m2","y":9.5,"w":0.36},{"v":"Se24G","i":"m2","y":12,"w":0.25},{"v":"Se24G","i":"m2","y":15,"w":0},
{"v":"Se24G","i":"m3","y":-0.3,"w":0},{"v":"Se24G","i":"m3","y":2,"w":0.2},{"v":"Se24G","i":"m3","y":7,"w":0.22},{"v":"Se24G","i":"m3","y":14,"w":0.14},{"v":"Se24G","i":"m3","y":22,"w":0.08},{"v":"Se24G","i":"m3","y":32,"w":0.04},{"v":"Se24G","i":"m3","y":40,"w":0.015},{"v":"Se24G","i":"m3","y":48.4,"w":0},
{"v":"Gl6G","i":"m0","y":65.7,"w":0},{"v":"Gl6G","i":"m0","y":72,"w":0.015},{"v":"Gl6G","i":"m0","y":80,"w":0.035},{"v":"Gl6G","i":"m0","y":86,"w":0.07},{"v":"Gl6G","i":"m0","y":91,"w":0.106},{"v":"Gl6G","i":"m0","y":96,"w":0.09},{"v":"Gl6G","i":"m0","y":98.7,"w":0},
{"v":"Gl6G","i":"m1","y":-0.8,"w":0},{"v":"Gl6G","i":"m1","y":1,"w":0.35},{"v":"Gl6G","i":"m1","y":2.1,"w":0.5},{"v":"Gl6G","i":"m1","y":3.5,"w":0.2},{"v":"Gl6G","i":"m1","y":5,"w":0.06},{"v":"Gl6G","i":"m1","y":7.1,"w":0},
{"v":"Gl6G","i":"m2","y":-0.8,"w":0},{"v":"Gl6G","i":"m2","y":3,"w":0.08},{"v":"Gl6G","i":"m2","y":9,"w":0.127},{"v":"Gl6G","i":"m2","y":14,"w":0.08},{"v":"Gl6G","i":"m2","y":20,"w":0.025},{"v":"Gl6G","i":"m2","y":33.2,"w":0},
{"v":"Gl24G","i":"m0","y":45.1,"w":0},{"v":"Gl24G","i":"m0","y":55,"w":0.005},{"v":"Gl24G","i":"m0","y":65,"w":0.015},{"v":"Gl24G","i":"m0","y":75,"w":0.045},{"v":"Gl24G","i":"m0","y":85,"w":0.085},{"v":"Gl24G","i":"m0","y":95,"w":0.06},{"v":"Gl24G","i":"m0","y":103.7,"w":0},
{"v":"Gl24G","i":"m1","y":-1,"w":0},{"v":"Gl24G","i":"m1","y":0.5,"w":0.35},{"v":"Gl24G","i":"m1","y":1.6,"w":0.5},{"v":"Gl24G","i":"m1","y":3,"w":0.3},{"v":"Gl24G","i":"m1","y":5,"w":0.06},{"v":"Gl24G","i":"m1","y":9.5,"w":0},
{"v":"Gl24G","i":"m2","y":0,"w":0},{"v":"Gl24G","i":"m2","y":4,"w":0.08},{"v":"Gl24G","i":"m2","y":10,"w":0.1},{"v":"Gl24G","i":"m2","y":16.6,"w":0.106},{"v":"Gl24G","i":"m2","y":22,"w":0.08},{"v":"Gl24G","i":"m2","y":30,"w":0.02},{"v":"Gl24G","i":"m2","y":49.6,"w":0}
]
},
"hconcat":[
{
 "data":{"name":"D"},
 "transform":[{"lookup":"v","from":{"data":{"name":"L"},"key":"v","fields":["g","m","t","r"]}}],
 "title":{"text":"HCC2279"},
 "facet":{
  "row":{"field":"g","type":"nominal","title":"% Enrichment","sort":["Citrate 6h","Citrate 24h","Fumarate 6h","Fumarate 24h","Malate 6h","Malate 24h","Lactate 6h","Lactate 24h","Serine 6h","Serine 24h","Glycine 6h","Glycine 24h"],"header":{"labels":false,"titleOrient":"left","titlePadding":-2}},
  "column":{"field":"r","type":"nominal","title":"Isotopologues","sort":["[U-13C]glucose","[U-13C]glutamine"],"header":{"labels":false,"titleOrient":"bottom","titlePadding":-6}}
 },
 "spacing":{"row":12,"column":11.7},
 "bounds":"flush",
 "spec":{
  "width":373,"height":144.5,
  "layer":[
   {"transform":[{"filter":"isValid(datum.y) && !isValid(datum.w)"}],"mark":{"type":"bar","strokeWidth":3},
    "encoding":{
     "x":{"field":"i","type":"nominal","scale":{"domain":["m0","m1","m2","m3","m4","m5","m6"],"paddingInner":0.1,"paddingOuter":0.15},"axis":{"title":null}},
     "y":{"field":"y","type":"quantitative","scale":{"domain":[-5,109.7],"nice":false,"zero":false},"axis":{"title":null,"values":[0,25,50,75,100]}},
     "fill":{"field":"m","type":"nominal","scale":{"domain":["Citrate","Fumarate","Glycine","Lactate","Malate","Serine"],"range":["#E41A1C","#377EB8","#FFFF33","#984EA3","#4DAF4A","#FF7F00"]},"legend":{"title":"metabolite","orient":"none","legendX":863,"legendY":672,"symbolType":"square","symbolStrokeWidth":0,"symbolStrokeColor":"transparent"}},
     "fillOpacity":{"field":"t","type":"nominal","scale":{"domain":["6h","24h"],"range":[0.4,0.8]},"legend":null},
     "stroke":{"field":"r","type":"nominal","scale":{"domain":["[U-13C]glucose","[U-13C]glutamine"],"range":["#FFB90F","#EE1289"]},"legend":{"title":"tracer","orient":"none","legendX":863,"legendY":955,"symbolType":"square","symbolSize":1000,"symbolFillColor":"#595959","symbolStrokeWidth":3,"rowPadding":-19}}
    }},
   {"transform":[{"filter":"isValid(datum.y) && !isValid(datum.w)"}],"mark":{"type":"text","fontSize":22.5,"color":"black","baseline":"alphabetic","dy":-4.5,"text":{"expr":"datum.y + '%'"}},
    "encoding":{"x":{"field":"i","type":"nominal","axis":{"title":null}},"y":{"field":"y","type":"quantitative","axis":{"title":null,"values":[0,25,50,75,100]}}}},
   {"transform":[{"filter":"isValid(datum.y) && !isValid(datum.w)"}],"mark":{"type":"point","filled":true,"shape":"square","size":0,"color":"black"},
    "encoding":{"x":{"field":"i","type":"nominal","axis":{"title":null}},"y":{"field":"y","type":"quantitative","axis":{"title":null,"values":[0,25,50,75,100]}},
     "opacity":{"field":"t","type":"nominal","scale":{"domain":["6h","24h"],"range":[0.4,0.8]},"legend":{"title":"timepoint","orient":"none","legendX":863,"legendY":1101,"symbolType":"square","symbolSize":1100,"symbolFillColor":"black","symbolStrokeWidth":0,"symbolStrokeColor":"transparent"}}}},
   {"transform":[{"filter":"datum.s == 'c'"}],"mark":{"type":"rect","fill":"white","stroke":"black","strokeWidth":3},
    "encoding":{"x":{"datum":"m0","bandPosition":-0.1345,"axis":{"title":null}},"x2":{"datum":"m6","bandPosition":1.127},"y":{"datum":137.16,"axis":{"title":null,"values":[0,25,50,75,100]}},"y2":{"datum":111.37}}},
   {"transform":[{"filter":"datum.s == 'c'"}],"mark":{"type":"text","fontSize":18,"color":"#1A1A1A","baseline":"middle","align":"center"},
    "encoding":{"x":{"datum":"m3","bandPosition":0.5,"axis":{"title":null}},"y":{"datum":124.27,"axis":{"title":null,"values":[0,25,50,75,100]}},"text":{"field":"r"}}},
   {"transform":[{"filter":"datum.s == 'r'"}],"mark":{"type":"rect","fill":"white","stroke":"black","strokeWidth":3},
    "encoding":{"x":{"datum":"m6","bandPosition":1.224,"axis":{"title":null}},"x2":{"datum":"m6","bandPosition":1.863},"y":{"datum":108.5,"axis":{"title":null,"values":[0,25,50,75,100]}},"y2":{"datum":-3.8}}},
   {"transform":[{"filter":"datum.s == 'r'"}],"mark":{"type":"text","fontSize":18,"color":"#1A1A1A","baseline":"middle","align":"center","angle":90},
    "encoding":{"x":{"datum":"m6","bandPosition":1.5435,"axis":{"title":null}},"y":{"datum":52.35,"axis":{"title":null,"values":[0,25,50,75,100]}},"text":{"field":"t"}}},
   {"transform":[{"filter":"datum.s == 'r'"}],"mark":{"type":"rect","fill":"white","stroke":"black","strokeWidth":3},
    "encoding":{"x":{"datum":"m6","bandPosition":1.99,"axis":{"title":null}},"x2":{"datum":"m6","bandPosition":2.682},"y":{"datum":108.5,"axis":{"title":null,"values":[0,25,50,75,100]}},"y2":{"datum":-3.8}}},
   {"transform":[{"filter":"datum.s == 'r'"}],"mark":{"type":"text","fontSize":18,"color":"#1A1A1A","baseline":"middle","align":"center","angle":90},
    "encoding":{"x":{"datum":"m6","bandPosition":2.336,"axis":{"title":null}},"y":{"datum":52.35,"axis":{"title":null,"values":[0,25,50,75,100]}},"text":{"field":"m"}}}
  ]
 }
},
{
 "data":{"name":"D"},
 "transform":[{"lookup":"v","from":{"data":{"name":"L"},"key":"v","fields":["g","m","t","r"]}}],
 "title":{"text":"HCC2279"},
 "facet":{
  "row":{"field":"g","type":"nominal","title":"% Enrichment","sort":["Citrate 6h","Citrate 24h","Fumarate 6h","Fumarate 24h","Malate 6h","Malate 24h","Lactate 6h","Lactate 24h","Serine 6h","Serine 24h","Glycine 6h","Glycine 24h"],"header":{"labels":false,"titleOrient":"left","titlePadding":-2}},
  "column":{"field":"r","type":"nominal","title":"Isotopologues","sort":["[U-13C]glucose","[U-13C]glutamine"],"header":{"labels":false,"titleOrient":"bottom","titlePadding":-6}}
 },
 "spacing":{"row":12,"column":11.7},
 "bounds":"flush",
 "spec":{
  "width":373,"height":144.5,
  "resolve":{"scale":{"xOffset":"independent"}},
  "layer":[
   {"transform":[{"filter":"isValid(datum.w)"}],"mark":{"type":"line","strokeWidth":1.1,"interpolate":"catmull-rom"},
    "encoding":{
     "x":{"field":"i","type":"nominal","scale":{"domain":["m0","m1","m2","m3","m4","m5","m6"],"paddingInner":0.1,"paddingOuter":0.15},"axis":{"title":null}},
     "xOffset":{"field":"w","type":"quantitative","scale":{"domain":[-0.5,0.5],"range":[0,46.63],"nice":false,"zero":false}},
     "y":{"field":"y","type":"quantitative","scale":{"domain":[-5,109.7],"nice":false,"zero":false},"axis":{"title":null,"values":[0,25,50,75,100]}},
     "order":{"field":"y","type":"quantitative"},
     "detail":{"field":"i"},
     "fill":{"field":"m","type":"nominal","scale":{"domain":["Citrate","Fumarate","Malate","Lactate","Serine","Glycine"],"range":["#E41A1C","#377EB8","#4DAF4A","#984EA3","#FF7F00","#FFFF33"]},"legend":{"title":"metabolite","orient":"none","legendX":863.5,"legendY":672,"symbolType":"square","symbolStrokeColor":"transparent","symbolStrokeWidth":0}},
     "fillOpacity":{"field":"t","type":"nominal","scale":{"domain":["6h","24h"],"range":[0.4,0.8]},"legend":null},
     "stroke":{"field":"r","type":"nominal","scale":{"domain":["[U-13C]glucose","[U-13C]glutamine"],"range":["#FFB90F","#EE1289"]},"legend":{"title":"tracer","orient":"none","legendX":863.5,"legendY":955,"symbolType":"square","symbolFillColor":"white","symbolStrokeWidth":1.5,"rowPadding":-12}}
    }},
   {"transform":[{"filter":"isValid(datum.w)"}],"mark":{"type":"line","strokeWidth":1.1,"interpolate":"catmull-rom"},
    "encoding":{
     "x":{"field":"i","type":"nominal","axis":{"title":null}},
     "xOffset":{"field":"w","type":"quantitative","scale":{"domain":[-0.5,0.5],"range":[46.63,0],"nice":false,"zero":false}},
     "y":{"field":"y","type":"quantitative","axis":{"title":null,"values":[0,25,50,75,100]}},
     "order":{"field":"y","type":"quantitative"},
     "detail":{"field":"i"},
     "fill":{"field":"m","type":"nominal","legend":{"title":"metabolite","orient":"none","legendX":863.5,"legendY":672,"symbolType":"square","symbolStrokeColor":"transparent","symbolStrokeWidth":0}},
     "fillOpacity":{"field":"t","type":"nominal","legend":null},
     "stroke":{"field":"r","type":"nominal","legend":{"title":"tracer","orient":"none","legendX":863.5,"legendY":955,"symbolType":"square","symbolFillColor":"white","symbolStrokeWidth":1.5,"rowPadding":-12}}
    }},
   {"transform":[{"filter":"isValid(datum.y) && !isValid(datum.w)"}],"mark":{"type":"point","filled":true,"shape":"circle","size":80,"stroke":"#BEBEBE","strokeWidth":1.8,"opacity":1},
    "encoding":{"x":{"field":"i","type":"nominal","axis":{"title":null}},"y":{"field":"y","type":"quantitative","axis":{"title":null,"values":[0,25,50,75,100]}},"fill":{"field":"m","type":"nominal","legend":{"title":"metabolite","orient":"none","legendX":863.5,"legendY":672,"symbolType":"square","symbolStrokeColor":"transparent","symbolStrokeWidth":0}}}},
   {"transform":[{"filter":"isValid(datum.y) && !isValid(datum.w)"}],"mark":{"type":"point","filled":true,"shape":"square","size":0,"color":"black"},
    "encoding":{"x":{"field":"i","type":"nominal","axis":{"title":null}},"y":{"field":"y","type":"quantitative","axis":{"title":null,"values":[0,25,50,75,100]}},
     "opacity":{"field":"t","type":"nominal","scale":{"domain":["6h","24h"],"range":[0.4,0.8]},"legend":{"title":"timepoint","orient":"none","legendX":863.5,"legendY":1101,"symbolType":"square","symbolSize":1100,"symbolFillColor":"black","symbolStrokeWidth":0,"symbolStrokeColor":"transparent"}}}},
   {"transform":[{"filter":"datum.s == 'c'"}],"mark":{"type":"rect","fill":"white","stroke":"black","strokeWidth":3},
    "encoding":{"x":{"datum":"m0","bandPosition":-0.1345,"axis":{"title":null}},"x2":{"datum":"m6","bandPosition":1.127},"y":{"datum":137.16,"axis":{"title":null,"values":[0,25,50,75,100]}},"y2":{"datum":111.37}}},
   {"transform":[{"filter":"datum.s == 'c'"}],"mark":{"type":"text","fontSize":18,"color":"#1A1A1A","baseline":"middle","align":"center"},
    "encoding":{"x":{"datum":"m3","bandPosition":0.5,"axis":{"title":null}},"y":{"datum":124.27,"axis":{"title":null,"values":[0,25,50,75,100]}},"text":{"field":"r"}}},
   {"transform":[{"filter":"datum.s == 'r'"}],"mark":{"type":"rect","fill":"white","stroke":"black","strokeWidth":3},
    "encoding":{"x":{"datum":"m6","bandPosition":1.224,"axis":{"title":null}},"x2":{"datum":"m6","bandPosition":1.863},"y":{"datum":108.5,"axis":{"title":null,"values":[0,25,50,75,100]}},"y2":{"datum":-3.8}}},
   {"transform":[{"filter":"datum.s == 'r'"}],"mark":{"type":"text","fontSize":18,"color":"#1A1A1A","baseline":"middle","align":"center","angle":90},
    "encoding":{"x":{"datum":"m6","bandPosition":1.5435,"axis":{"title":null}},"y":{"datum":52.35,"axis":{"title":null,"values":[0,25,50,75,100]}},"text":{"field":"t"}}},
   {"transform":[{"filter":"datum.s == 'r'"}],"mark":{"type":"rect","fill":"white","stroke":"black","strokeWidth":3},
    "encoding":{"x":{"datum":"m6","bandPosition":1.99,"axis":{"title":null}},"x2":{"datum":"m6","bandPosition":2.682},"y":{"datum":108.5,"axis":{"title":null,"values":[0,25,50,75,100]}},"y2":{"datum":-3.8}}},
   {"transform":[{"filter":"datum.s == 'r'"}],"mark":{"type":"text","fontSize":18,"color":"#1A1A1A","baseline":"middle","align":"center","angle":90},
    "encoding":{"x":{"datum":"m6","bandPosition":2.336,"axis":{"title":null}},"y":{"datum":52.35,"axis":{"title":null,"values":[0,25,50,75,100]}},"text":{"field":"m"}}}
  ]
 }
}
]
}
